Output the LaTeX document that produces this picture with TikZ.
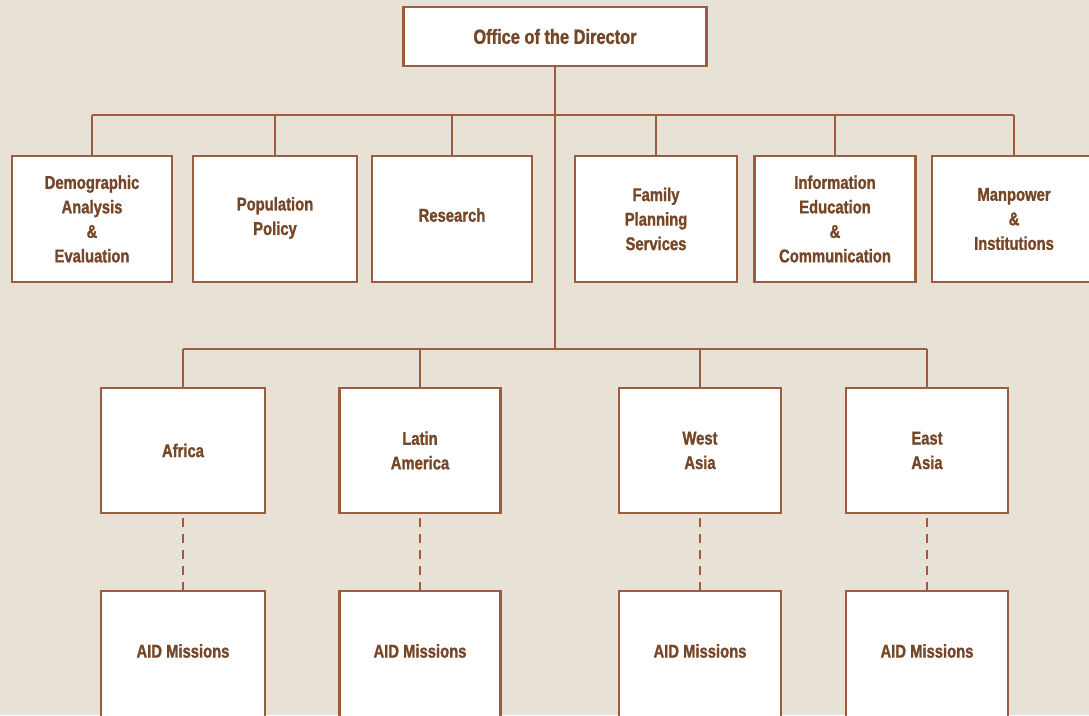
\documentclass[tikz,border=0pt]{standalone}
\usepackage{fontspec}
\setmainfont{Liberation Sans}[FakeStretch=0.8, BoldFeatures={FakeBold=1.2}]
\definecolor{bgc}{RGB}{232,226,214}
\definecolor{linec}{RGB}{158,92,62}
\definecolor{textc}{RGB}{118,70,40}
\tikzset{
  box/.style={draw=linec, line width=2.2pt, fill=white, inner sep=0pt, align=center,
    font=\fontsize{18.5}{24.5}\selectfont\bfseries, text=textc},
  txt/.style={inner sep=0pt, align=center, font=\fontsize{18.5}{24.5}\selectfont\bfseries, text=textc},
  conn/.style={draw=linec, line width=2.6pt},
  dconn/.style={draw=linec, line width=2.6pt, dash pattern=on 9pt off 7pt, dash phase=-4pt}
}
\begin{document}
\begin{tikzpicture}[x=1pt,y=-1pt]
\useasboundingbox (0,0) rectangle (1089,715);
\clip (0,0) rectangle (1089,715);
\fill[bgc] (0,0) rectangle (1089,715);
% nodes
\node[box, minimum width=303, minimum height=59, font=\fontsize{20.5}{24.5}\selectfont\bfseries] (office) at (555,36.5) {Office of the Director};
\node[box, minimum width=160, minimum height=126] (demo) at (92,219) {Demographic\\Analysis\\\&\\Evaluation};
\node[box, minimum width=164, minimum height=126, text depth=6pt] (pop) at (275,219) {Population\\Policy};
\node[box, minimum width=160, minimum height=126, text depth=8pt] (res) at (452,219) {Research};
\node[box, minimum width=162, minimum height=126] (fam) at (656,219) {Family\\Planning\\Services};
\node[box, minimum width=161, minimum height=126] (info) at (835,219) {Information\\Education\\\&\\Communication};
\node[box, minimum width=164, minimum height=126] (man) at (1014,219) {Manpower\\\&\\Institutions};
\node[box, minimum width=164, minimum height=125] (afr) at (183,450.5) {Africa};
\node[box, minimum width=161, minimum height=125] (lat) at (420,450.5) {Latin\\America};
\node[box, minimum width=162, minimum height=125] (wes) at (700,450.5) {West\\Asia};
\node[box, minimum width=162, minimum height=125] (eas) at (927,450.5) {East\\Asia};
\node[box, minimum width=164, minimum height=160, anchor=north] (m1) at (183,590) {};
\node[box, minimum width=161, minimum height=160, anchor=north] (m2) at (420,590) {};
\node[box, minimum width=162, minimum height=160, anchor=north] (m3) at (700,590) {};
\node[box, minimum width=162, minimum height=160, anchor=north] (m4) at (927,590) {};
\node[txt] (t1) at (183,651) {AID Missions};
\node[txt] (t2) at (420,651) {AID Missions};
\node[txt] (t3) at (700,651) {AID Missions};
\node[txt] (t4) at (927,651) {AID Missions};
% connectors
\coordinate (b1) at (555,115);
\coordinate (b2) at (555,349);
\draw[conn] (office.south) -- (b1);
\draw[conn] (b1) -- (b2);
\draw[conn] (demo.north |- b1) -- (man.north |- b1);
\foreach \n in {demo,pop,res,fam,info,man} \draw[conn] (\n.north |- b1) -- (\n.north);
\draw[conn] (afr.north |- b2) -- (eas.north |- b2);
\foreach \n in {afr,lat,wes,eas} \draw[conn] (\n.north |- b2) -- (\n.north);
\draw[dconn] (afr.south) -- (m1.north);
\draw[dconn] (lat.south) -- (m2.north);
\draw[dconn] (wes.south) -- (m3.north);
\draw[dconn] (eas.south) -- (m4.north);
\end{tikzpicture}
\end{document}
